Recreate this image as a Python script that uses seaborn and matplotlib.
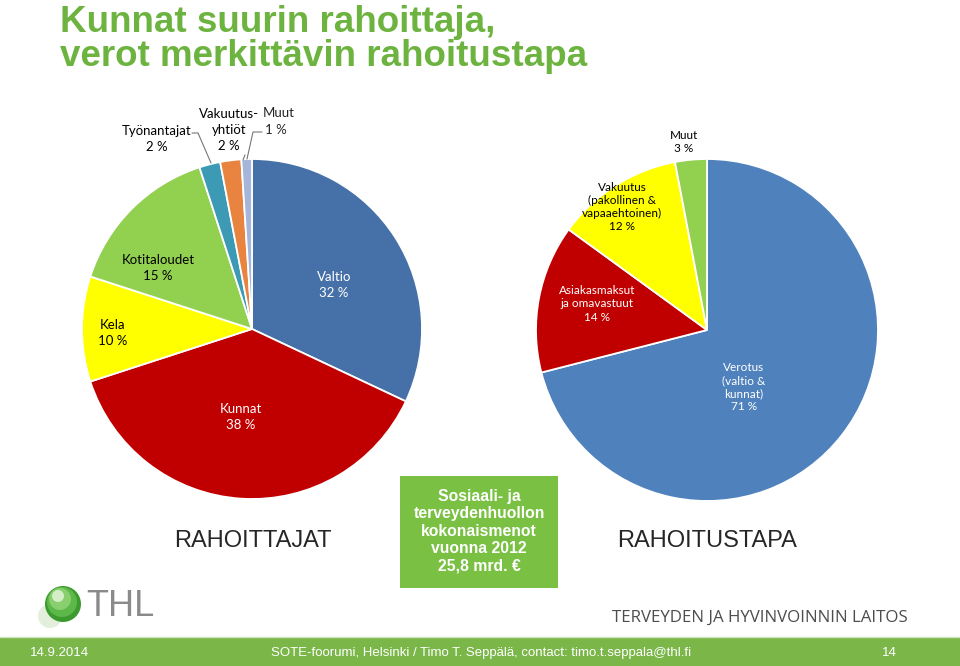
import matplotlib
matplotlib.use("Agg")
import matplotlib.pyplot as plt
import seaborn as sns
import numpy as np
from matplotlib.patches import Rectangle, Ellipse

sns.set_theme(style="white")
plt.rcParams['font.family'] = ['Lato', 'DejaVu Sans']

# ---- data ----
left_labels = ["Valtio", "Kunnat", "Kela", "Kotitaloudet", "Työnantajat", "Vakuutus-\nyhtiöt", "Muut"]
left_values = [32, 38, 10, 15, 2, 2, 1]
left_colors = ["#4670A8", "#C00000", "#FFFF00", "#92D050", "#3D9AB5", "#E8843F", "#A5B6DA"]

right_labels = ["Verotus\n(valtio &\nkunnat)", "Asiakasmaksut\nja omavastuut", "Vakuutus\n(pakollinen &\nvapaaehtoinen)", "Muut"]
right_values = [71, 14, 12, 3]
right_colors = ["#4F81BD", "#C00000", "#FFFF00", "#92D050"]

W, H = 960, 666
fig = plt.figure(figsize=(W / 100, H / 100), dpi=100)
fig.patch.set_facecolor("white")

def fx(x):
    return x / W

def fy(y):
    return 1 - y / H

def pie_axes(cx, cy, r):
    ax = fig.add_axes([fx(cx - r), fy(cy + r), 2 * r / W, 2 * r / H])
    return ax

def finish(ax):
    ax.set_xlim(-1, 1)
    ax.set_ylim(-1, 1)
    ax.set_aspect("equal")
    ax.axis("off")

# ---- left pie ----
axL = pie_axes(252, 329, 170)
axL.pie(left_values, colors=left_colors, startangle=90, counterclock=False,
        radius=1, wedgeprops=dict(edgecolor="white", linewidth=1.3))
finish(axL)

# ---- right pie ----
axR = pie_axes(707, 330, 171)
axR.pie(right_values, colors=right_colors, startangle=90, counterclock=False,
        radius=1, wedgeprops=dict(edgecolor="white", linewidth=1.3))
finish(axR)

def label(x, y, s, color="black", size=9.5, ls=1.35):
    fig.text(fx(x), fy(y), s, ha="center", va="center", color=color,
             fontsize=size, linespacing=ls)

# left labels
label(334, 285, f"{left_labels[0]}\n{left_values[0]} %", "white")
label(241, 417, f"{left_labels[1]}\n{left_values[1]} %", "white")
label(113, 333, f"{left_labels[2]}\n{left_values[2]} %")
label(158, 268, f"{left_labels[3]}\n{left_values[3]} %")
label(157, 139, f"{left_labels[4]}\n{left_values[4]} %")
label(229, 130, f"{left_labels[5]}\n{left_values[5]} %")
fig.text(fx(263), fy(113), left_labels[6], ha="left", va="center", fontsize=9.5)
fig.text(fx(265), fy(130), f"{left_values[6]} %", ha="left", va="center", fontsize=9.5)

# leader lines (figure pixel coords)
def leader(pts):
    xs = [fx(p[0]) for p in pts]
    ys = [fy(p[1]) for p in pts]
    fig.add_artist(plt.Line2D(xs, ys, color="#777777", linewidth=0.8))

leader([(192, 133), (198, 133), (211, 163)])
leader([(245, 155), (243, 160)])
leader([(262, 132), (253, 132), (247, 159)])

# right labels
label(684, 142, f"{right_labels[3]}\n{right_values[3]} %", size=8.5, ls=1.25)
label(622, 207, f"{right_labels[2]}\n{right_values[2]} %", size=8.5, ls=1.25)
label(597, 304, f"{right_labels[1]}\n{right_values[1]} %", "white", size=8.5, ls=1.25)
label(744, 387, f"{right_labels[0]}\n{right_values[0]} %", "white", size=8.5, ls=1.25)

# ---- title ----
tf = ["Liberation Sans", "DejaVu Sans"]
fig.text(fx(60), fy(22), "Kunnat suurin rahoittaja,", ha="left", va="center",
         color="#6DB33F", fontsize=26.5, fontweight="bold", family=tf)
fig.text(fx(60), fy(57), "verot merkittävin rahoitustapa", ha="left", va="center",
         color="#6DB33F", fontsize=26.5, fontweight="bold", family=tf)

# ---- captions ----
fig.text(fx(253), fy(541), "RAHOITTAJAT", ha="center", va="center", fontsize=17, family=tf)
fig.text(fx(707), fy(541), "RAHOITUSTAPA", ha="center", va="center", fontsize=17, family=tf)

# ---- green info box ----
fig.add_artist(Rectangle((fx(400), fy(588)), 158 / W, 112 / H, transform=fig.transFigure,
                         facecolor="#7AC143", edgecolor="none"))
fig.text(fx(479), fy(531), "Sosiaali- ja\nterveydenhuollon\nkokonaismenot\nvuonna 2012\n25,8 mrd. €",
         ha="center", va="center", color="white", fontsize=11.3, fontweight="bold",
         family=tf, linespacing=1.2)

# ---- THL logo ----
def ell(cx, cy, r, color, alpha=1.0):
    fig.add_artist(Ellipse((fx(cx), fy(cy)), 2 * r / W, 2 * r / H, transform=fig.transFigure,
                           facecolor=color, edgecolor="none", alpha=alpha))

ell(50, 616, 12, "#E3EEDB")
ell(63, 604, 18, "#3C9A2E")
ell(62, 602, 15, "#5DB84A")
ell(60, 599, 11, "#8ACF6E")
ell(58, 596, 6, "#D4EFC8")
fig.text(fx(86), fy(606), "THL", ha="left", va="center", fontsize=26, color="#8A8A8A", family=tf)
fig.text(fx(908), fy(618), "TERVEYDEN JA HYVINVOINNIN LAITOS", ha="right", va="center",
         fontsize=12.2, color="#4D4D4D", family=["Open Sans", "DejaVu Sans"])

# ---- footer ----
fig.add_artist(Rectangle((0, 0), 1, 29 / H, transform=fig.transFigure,
                         facecolor="#7AB648", edgecolor="none"))
fig.add_artist(plt.Line2D([0, 1], [fy(637), fy(637)], color="#CFE3BE", linewidth=1))
ff = ["Liberation Sans Narrow", "Liberation Sans", "DejaVu Sans"]
fig.text(fx(30), fy(653), "14.9.2014", ha="left", va="center", color="white", fontsize=9.5, family=ff)
fig.text(fx(481), fy(653), "SOTE-foorumi, Helsinki / Timo T. Seppälä, contact: timo.t.seppala@thl.fi",
         ha="center", va="center", color="white", fontsize=9.5, family=ff)
fig.text(fx(889), fy(653), "14", ha="center", va="center", color="white", fontsize=9.5, family=ff)

fig.savefig("out.png", dpi=100, facecolor="white")
